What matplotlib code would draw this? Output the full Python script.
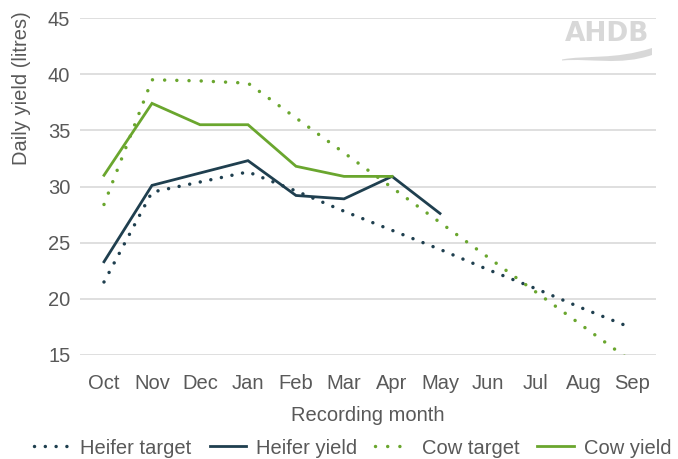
import matplotlib.pyplot as plt
from matplotlib.path import Path
from matplotlib.patches import PathPatch

# ── data ─────────────────────────────────────────────────────────────────────
MONTHS = ["Oct", "Nov", "Dec", "Jan", "Feb", "Mar",
          "Apr", "May", "Jun", "Jul", "Aug", "Sep"]
HEIFER_TARGET = [21.5, 29.5, 30.4, 31.3, 29.6, 27.8,
                 26.1, 24.4, 22.6, 20.9, 19.1, 17.4]
HEIFER_YIELD  = [23.3, 30.1, 31.2, 32.3, 29.2, 28.9, 30.9, 27.6]
COW_TARGET    = [28.4, 39.5, 39.4, 39.2, 36.1, 33.0,
                 29.9, 26.8, 23.7, 20.6, 17.5, 14.4]
COW_YIELD     = [31.0, 37.4, 35.5, 35.5, 31.8, 30.9, 30.9]
Y_TICKS = [15, 20, 25, 30, 35, 40, 45]

# ── style ────────────────────────────────────────────────────────────────────
NAVY  = "#1f3f4f"
GREEN = "#6aa62e"
TEXT  = "#595959"
GRID  = "#d9d9d9"

plt.rcParams.update({
    "font.family": ["Liberation Sans", "DejaVu Sans"],
    "font.size": 14.5,
    "text.color": TEXT,
})

fig = plt.figure(figsize=(6.78, 4.59), dpi=100)
ax = fig.add_axes([80 / 678, 1 - 355 / 459, 576 / 678, 337 / 459])

x = list(range(len(MONTHS)))

ax.plot(x, HEIFER_TARGET, color=NAVY, lw=2.5,
        linestyle=(0, (0.01, 3.1)), dash_capstyle="round",
        label="Heifer target", zorder=3)
ax.plot(x[:len(HEIFER_YIELD)], HEIFER_YIELD, color=NAVY, lw=2.0,
        solid_joinstyle="miter", label="Heifer yield", zorder=4)
ax.plot(x, COW_TARGET, color=GREEN, lw=2.5,
        linestyle=(0, (0.01, 3.5)), dash_capstyle="round",
        label="Cow target", zorder=3)
ax.plot(x[:len(COW_YIELD)], COW_YIELD, color=GREEN, lw=2.0,
        solid_joinstyle="miter", label="Cow yield", zorder=4)

ax.set_xlim(-0.5, len(MONTHS) - 0.5)
ax.set_ylim(15, 45)
ax.set_yticks(Y_TICKS)
ax.set_xticks(x)
ax.set_xticklabels(MONTHS)
ax.grid(axis="y", color=GRID, lw=1.2, zorder=0)
ax.tick_params(axis="both", length=0, colors=TEXT, labelsize=14.5)
ax.tick_params(axis="y", pad=7)
ax.tick_params(axis="x", pad=14)
for s in ax.spines.values():
    s.set_visible(False)

ax.set_xlabel("Recording month", color=TEXT, fontsize=14.5, labelpad=9)
fig.text(22 / 678, 1 - 88 / 459, "Daily yield (litres)", rotation=90,
         ha="center", va="center", color=TEXT, fontsize=14.5)

# ── logo ─────────────────────────────────────────────────────────────────────
LOGO = "#d8d8d8"
fig.text(607 / 678, 1 - 34 / 459, "AHDB", ha="center", va="center",
         fontsize=19, fontweight="bold", color=LOGO, family="DejaVu Sans")
px = lambda v: v / 678
py = lambda v: 1 - v / 459
verts = [(px(562), py(59.5)), (px(585), py(55)), (px(615), py(60)), (px(652), py(48)),
         (px(652), py(55)), (px(620), py(66)), (px(590), py(58)), (px(562), py(60.5))]
codes = [Path.MOVETO, Path.CURVE4, Path.CURVE4, Path.CURVE4,
         Path.LINETO, Path.CURVE4, Path.CURVE4, Path.CURVE4]
fig.patches.append(PathPatch(Path(verts, codes), transform=fig.transFigure,
                             facecolor=LOGO, edgecolor="none"))

# ── legend ───────────────────────────────────────────────────────────────────
fig.legend(loc="center", bbox_to_anchor=(0.52, 1 - 448 / 459), ncol=4,
           frameon=False, fontsize=14.5, handlelength=1.8,
           handletextpad=0.5, columnspacing=0.9, borderaxespad=0)

fig.savefig("out.png", dpi=100)
